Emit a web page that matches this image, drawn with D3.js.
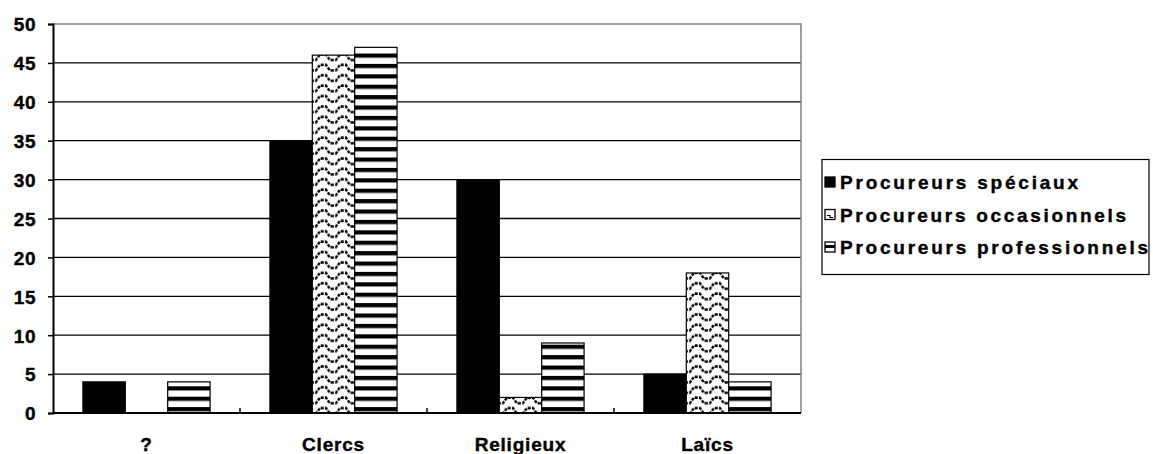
<!DOCTYPE html>
<html>
<head>
<meta charset="utf-8">
<script src="https://cdn.jsdelivr.net/npm/d3@7"></script>
<style>
  html, body { margin: 0; padding: 0; background: #fff; }
  svg { display: block; font-family: "Liberation Sans", Arial, sans-serif; font-weight: bold; }
  svg text { stroke: #000; stroke-width: 0.4px; }
</style>
</head>
<body>
<svg id="chart" width="1153" height="454"></svg>
<script>
const categories = ["?", "Clercs", "Religieux", "Laïcs"];
const seriesNames = ["Procureurs spéciaux", "Procureurs occasionnels", "Procureurs professionnels"];
const speciaux = [4, 35, 30, 5];
const occasionnels = [0, 46, 2, 18];
const professionnels = [4, 47, 9, 4];
const yTicks = [0, 5, 10, 15, 20, 25, 30, 35, 40, 45, 50];

const seriesValues = [speciaux, occasionnels, professionnels];
const fills = ["#000", "url(#wave)", "url(#stripes)"];

const svg = d3.select("#chart");
const pLeft = 53, pRight = 801, pTop = 24, pBottom = 413;

const defs = svg.append("defs");
const wave = defs.append("pattern").attr("id", "wave").attr("patternUnits", "userSpaceOnUse")
  .attr("width", 20).attr("height", 10.4).attr("x", 2).attr("y", 0);
wave.append("rect").attr("width", 20).attr("height", 10.4).attr("fill", "#fff");
wave.append("path").attr("d", "M-1,8 H4 L8,2.5 H14 L18,8 H21")
  .attr("fill", "none").attr("stroke", "#000").attr("stroke-width", 2.4).attr("stroke-dasharray", "3 1.2");
const stripes = defs.append("pattern").attr("id", "stripes").attr("patternUnits", "userSpaceOnUse")
  .attr("width", 10).attr("height", 10.4).attr("y", 1.5);
stripes.append("rect").attr("width", 10).attr("height", 10.4).attr("fill", "#fff");
stripes.append("rect").attr("width", 10).attr("height", 4.2).attr("y", 0).attr("fill", "#000");

const x0 = d3.scaleBand().domain(categories).range([pLeft, pRight]).paddingInner(0.32).paddingOuter(0.16);
const x1 = d3.scaleBand().domain(d3.range(seriesNames.length)).range([0, x0.bandwidth()]);
const y = d3.scaleLinear().domain([0, 50]).range([pBottom, pTop]);

// gridlines
svg.append("g").selectAll("line").data(yTicks.filter(t => t > 0 && t < 50)).join("line")
  .attr("x1", pLeft).attr("x2", pRight).attr("y1", d => y(d)).attr("y2", d => y(d))
  .attr("stroke", "#000").attr("stroke-width", 1.3);
// plot border top/right grey
svg.append("path").attr("d", `M${pLeft},${y(50)}H${pRight}V${pBottom}`)
  .attr("fill", "none").attr("stroke", "#808080").attr("stroke-width", 1.5);

// bars
const groups = svg.append("g").selectAll("g").data(categories).join("g")
  .attr("transform", d => `translate(${x0(d)},0)`);
groups.selectAll("rect").data((c, ci) => seriesValues.map((vals, si) => ({ si, v: vals[ci] })))
  .join("rect")
  .filter(d => d.v > 0)
  .attr("x", d => x1(d.si)).attr("width", x1.bandwidth())
  .attr("y", d => y(d.v)).attr("height", d => y(0) - y(d.v))
  .attr("fill", d => fills[d.si]).attr("stroke", "#000").attr("stroke-width", 1.2);

// y axis
const yAxis = svg.append("g").attr("transform", `translate(${pLeft},0)`)
  .call(d3.axisLeft(y).tickValues(yTicks).tickSize(5).tickPadding(12));
yAxis.select(".domain").attr("stroke", "#000").attr("stroke-width", 2);
yAxis.selectAll(".tick line").attr("stroke", "#000").attr("stroke-width", 1.5);
yAxis.selectAll(".tick text").attr("font-size", 19).attr("font-weight", "bold")
  .attr("font-family", "Liberation Sans, Arial, sans-serif").attr("fill", "#000")
  .attr("dy", "0.36em")
  .style("letter-spacing", "0.5px");

// x axis
const xAxis = svg.append("g").attr("transform", `translate(0,${pBottom})`);
xAxis.append("line").attr("x1", pLeft).attr("x2", pRight).attr("stroke", "#000").attr("stroke-width", 2);
xAxis.selectAll("line.tk").data(categories.slice(1)).join("line").attr("class", "tk")
  .attr("x1", d => x0(d) - x0.step() * 0.16).attr("x2", d => x0(d) - x0.step() * 0.16)
  .attr("y1", 0).attr("y2", -5).attr("stroke", "#000").attr("stroke-width", 1.5);
xAxis.selectAll("text").data(categories).join("text")
  .attr("x", d => x0(d) + x0.bandwidth() / 2).attr("y", 38)
  .attr("text-anchor", "middle").attr("font-size", 19).attr("fill", "#000")
  .style("letter-spacing", "0.8px")
  .text(d => d);

// legend
const lg = svg.append("g");
lg.append("rect").attr("x", 822).attr("y", 159.5).attr("width", 327).attr("height", 115)
  .attr("fill", "#fff").attr("stroke", "#000").attr("stroke-width", 1.2);
const legendWidths = [238, 286, 308];
const items = lg.selectAll("g.item").data(seriesNames).join("g").attr("class", "item")
  .attr("transform", (d, i) => `translate(0,${182 + i * 32.5})`);
items.append("rect").attr("x", 825).attr("y", -5).attr("width", 10).attr("height", 10)
  .attr("fill", (d, i) => i === 0 ? "#000" : "#fff").attr("stroke", "#000").attr("stroke-width", 1.3);
items.filter((d, i) => i === 1).append("path").attr("d", "M827,1 H830 V3 H833")
  .attr("fill", "none").attr("stroke", "#000").attr("stroke-width", 1.2);
items.filter((d, i) => i === 2).append("rect").attr("x", 825).attr("y", -2).attr("width", 10).attr("height", 3).attr("fill", "#000");
items.append("text").attr("x", 840).attr("y", 7).attr("font-size", 19).attr("fill", "#000")
  .attr("textLength", (d, i) => legendWidths[i]).attr("lengthAdjust", "spacing")
  .text(d => d);
</script>
</body>
</html>
